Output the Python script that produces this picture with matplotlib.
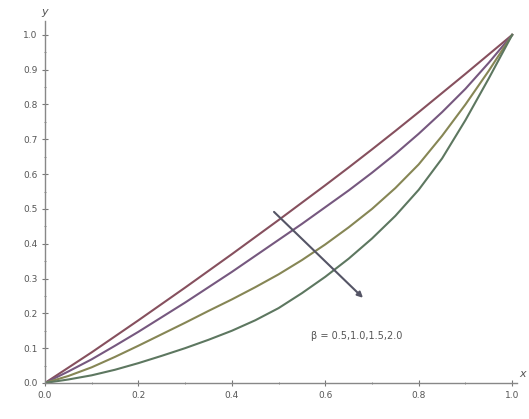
import matplotlib
matplotlib.use("Agg")
import matplotlib.pyplot as plt
from matplotlib.ticker import MultipleLocator

x = [0.0, 0.05, 0.1, 0.15, 0.2, 0.25, 0.3, 0.35, 0.4, 0.45, 0.5,
     0.55, 0.6, 0.65, 0.7, 0.75, 0.8, 0.85, 0.9, 0.95, 1.0]
y_b05 = [0.0, 0.044, 0.088, 0.134, 0.180, 0.227, 0.274, 0.322, 0.370, 0.419, 0.468,
         0.518, 0.568, 0.619, 0.671, 0.724, 0.778, 0.833, 0.888, 0.944, 1.0]
y_b10 = [0.0, 0.033, 0.068, 0.107, 0.147, 0.189, 0.231, 0.275, 0.319, 0.365, 0.411,
         0.457, 0.505, 0.553, 0.604, 0.658, 0.716, 0.778, 0.845, 0.920, 1.0]
y_b15 = [0.0, 0.020, 0.045, 0.075, 0.107, 0.140, 0.173, 0.207, 0.240, 0.275, 0.312,
         0.353, 0.398, 0.447, 0.500, 0.560, 0.628, 0.710, 0.800, 0.897, 1.0]
y_b20 = [0.0, 0.010, 0.022, 0.038, 0.057, 0.078, 0.100, 0.124, 0.150, 0.180, 0.215,
         0.258, 0.305, 0.357, 0.415, 0.480, 0.555, 0.645, 0.755, 0.875, 1.0]
series = [y_b05, y_b10, y_b15, y_b20]
colors = ['#86505e', '#76587f', '#868655', '#5d7760']

xticks = [0.0, 0.2, 0.4, 0.6, 0.8, 1.0]
yticks = [0.0, 0.1, 0.2, 0.3, 0.4, 0.5, 0.6, 0.7, 0.8, 0.9, 1.0]
annotation = "β = 0.5,1.0,1.5,2.0"

fig = plt.figure(figsize=(5.29, 4.19), dpi=100)
ax = fig.add_axes([0.085, 0.086, 0.892, 0.864])
for ys, c in zip(series, colors):
    ax.plot(x, ys, color=c, lw=1.5)

ax.set_xlim(0, 1.01)
ax.set_ylim(0, 1.04)
for s in ['top', 'right']:
    ax.spines[s].set_visible(False)
for s in ['left', 'bottom']:
    ax.spines[s].set_color('#888888')
    ax.spines[s].set_linewidth(1.0)
ax.set_xticks(xticks)
ax.set_yticks(yticks)
ax.set_xticklabels([f"{v:.1f}" for v in xticks])
ax.set_yticklabels([f"{v:.1f}" for v in yticks])
ax.xaxis.set_minor_locator(MultipleLocator(0.1))
ax.yaxis.set_minor_locator(MultipleLocator(0.05))
ax.tick_params(which='both', direction='inout', colors='#777777', labelsize=6.5, labelcolor='#555555')
ax.tick_params(which='major', length=4)
ax.tick_params(which='minor', length=2)

ax.annotate('', xy=(0.685, 0.239), xytext=(0.486, 0.497),
            arrowprops=dict(arrowstyle='-|>', color='#555566', lw=1.5, mutation_scale=8))
ax.text(0.57, 0.125, annotation, fontsize=7, color='#555555')
ax.text(0.0, 1.05, 'y', fontsize=8, color='#555555', ha='center', va='bottom', style='italic')
ax.text(1.015, 0.01, 'x', fontsize=8, color='#555555', ha='left', va='bottom', style='italic')

fig.savefig('out.png', dpi=100)
